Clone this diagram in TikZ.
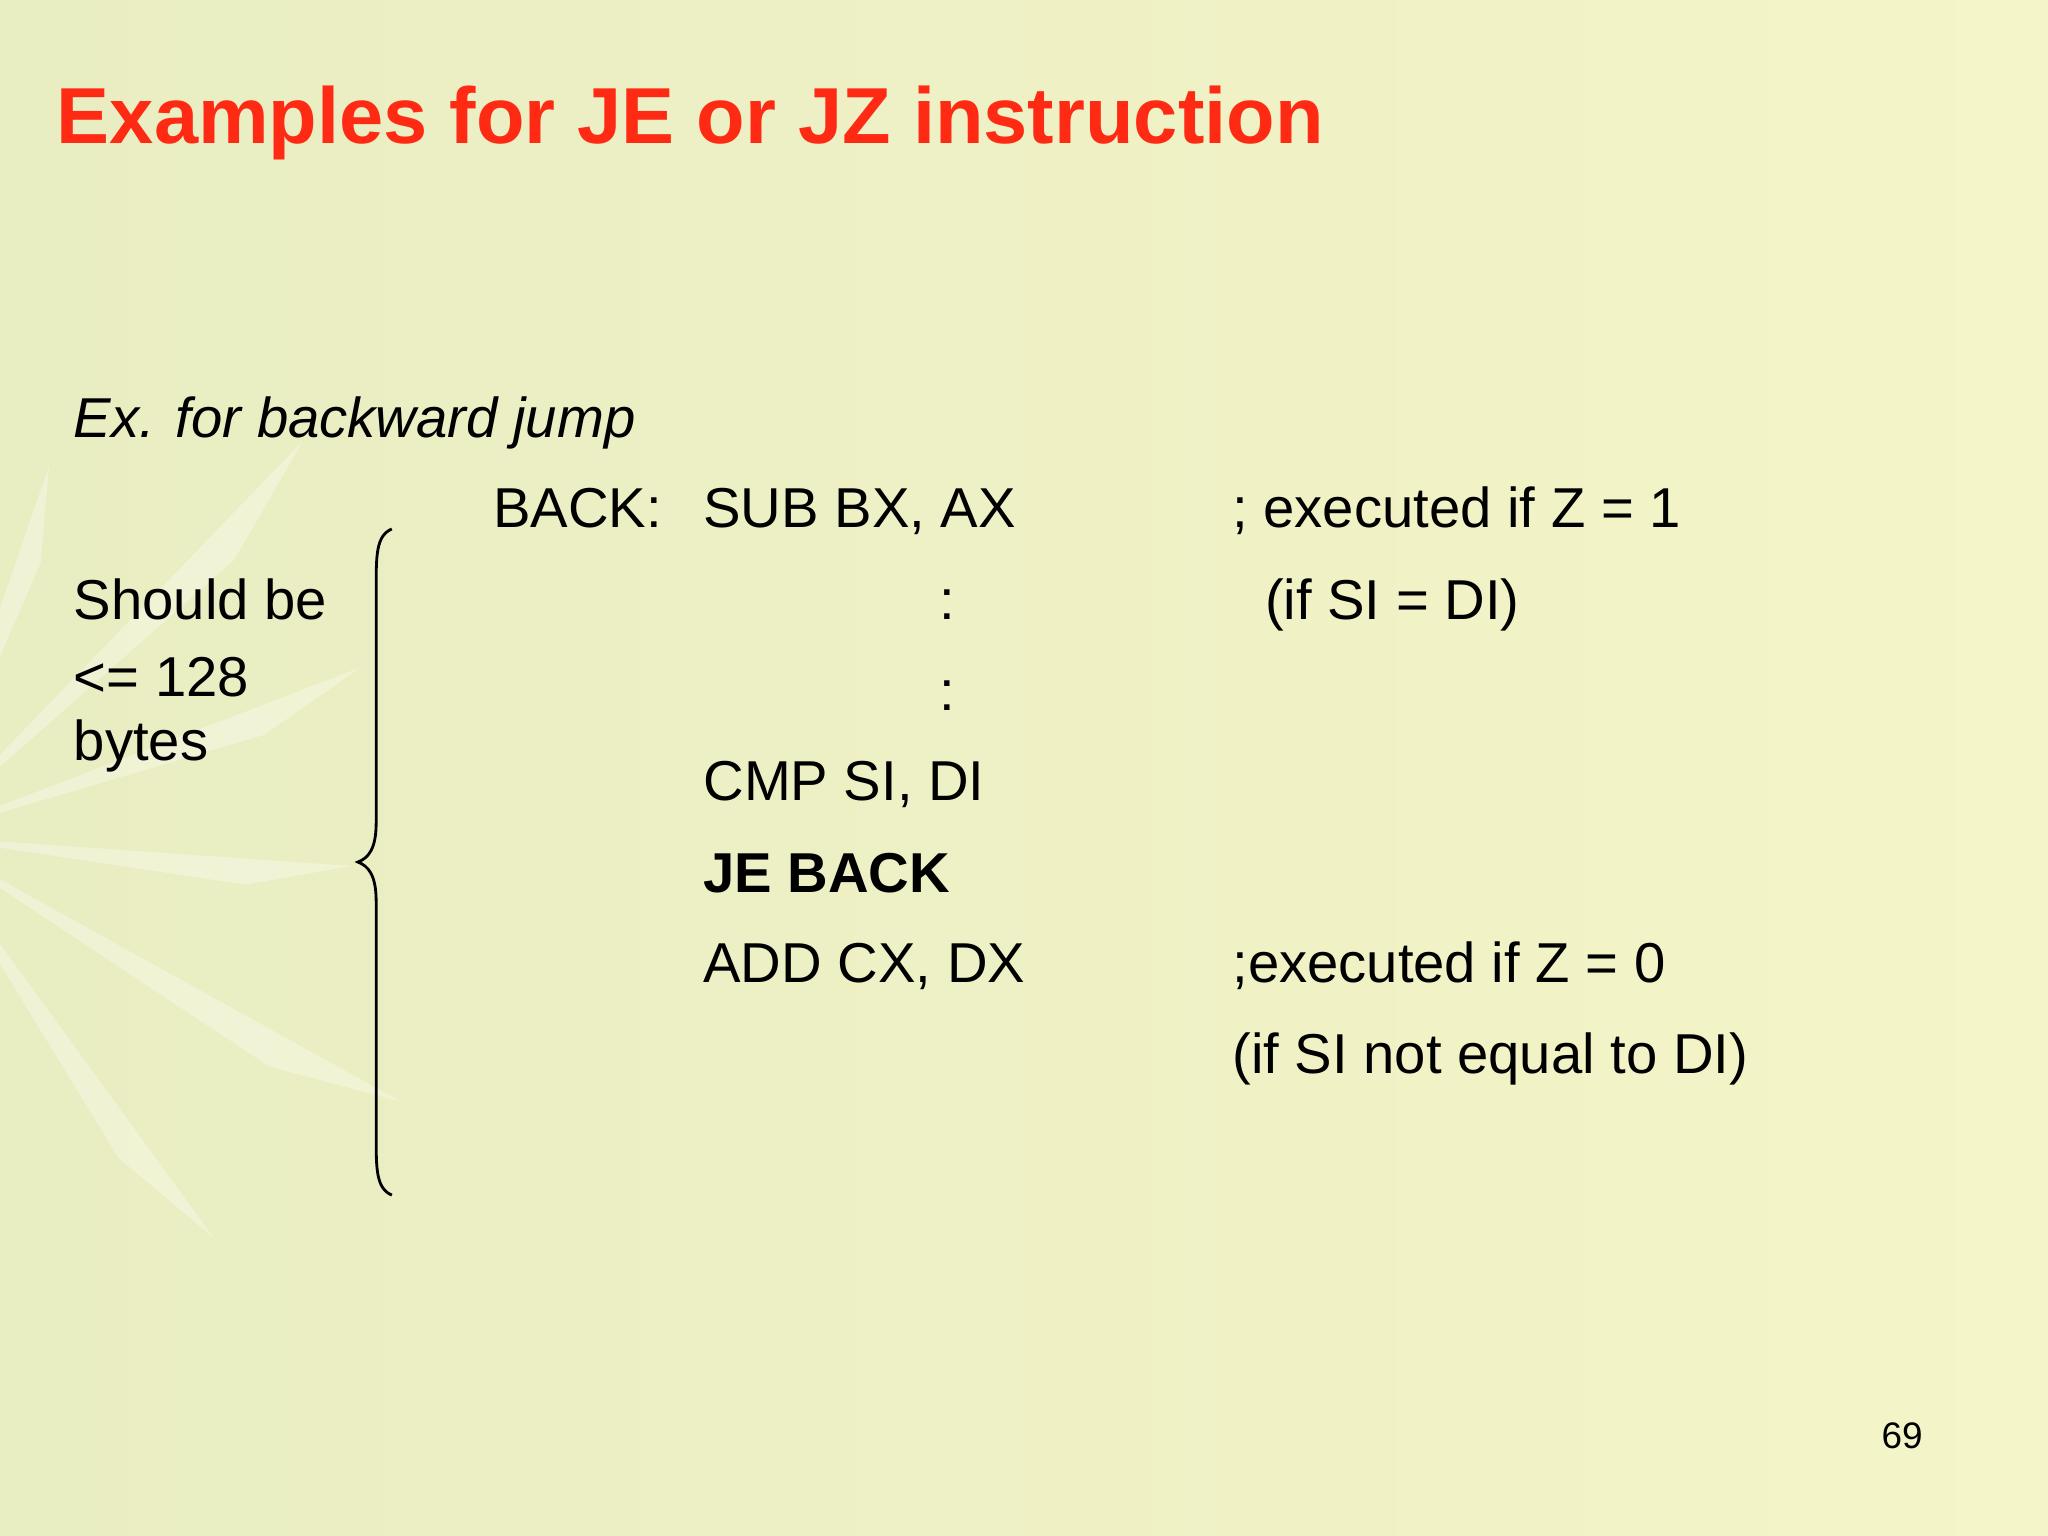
\documentclass[tikz,border=0pt]{standalone}
\usepackage{fontspec}
\setmainfont{Liberation Sans}
\definecolor{bgA}{HTML}{E9EDC2}
\definecolor{bgB}{HTML}{F4F5C8}
\definecolor{titlered}{HTML}{FF2A14}
\begin{document}
\begin{tikzpicture}[x=0.013061cm,y=-0.013061cm,
  body/.style={anchor=base west,inner sep=0pt,font=\fontsize{16pt}{19pt}\selectfont},
  star/.style={fill=white,opacity=0.3}]
\shade[left color=bgA,right color=bgB] (0,0) rectangle (1568,1176);
\useasboundingbox (0,0) rectangle (1568,1176);
% faint decorative star on the left
\foreach \a/\l in {10/330,35/420,60/380,85/300,110/360,135/310,160/250,-15/360,-40/420,-65/300}{
  \fill[star] (-60,640) -- ++(\a-6:\l) -- ++(\a+160:\l*0.25) -- cycle;
}
\node[anchor=base west,inner sep=0pt,text=titlered,font=\bfseries\fontsize{22.6pt}{27pt}\selectfont] (title) at (43,110) {Examples for JE or JZ instruction};
\node[body,font=\itshape\fontsize{16pt}{19pt}\selectfont] (ex) at (56,335) {Ex. for backward jump};
\node[body] (back) at (377,404) {BACK:};
\node[body] (sub) at (538,404) {SUB BX, AX};
\node[body] (c1) at (943,404) {; executed if Z = 1};
\node[body] (d1) at (719,474) {:};
\node[body] (c2) at (968,474) {(if SI = DI)};
\node[body] (d2) at (719,544) {:};
\node[body] (cmp) at (538,613) {CMP SI, DI};
\node[body,font=\bfseries\fontsize{16pt}{19pt}\selectfont] (je) at (538,683) {JE BACK};
\node[body] (add) at (538,752) {ADD CX, DX};
\node[body] (c3) at (943,752) {;executed if Z = 0};
\node[body] (c4) at (943,822) {(if SI not equal to DI)};
\node[body] (sb1) at (56,474) {Should be};
\node[body] (sb2) at (56,533) {<= 128};
\node[body] (sb3) at (56,582) {bytes};
\node[anchor=base west,inner sep=0pt,font=\fontsize{10.5pt}{12pt}\selectfont] (pg) at (1440,1109) {69};
% brace
\draw[line width=0.8pt] (300,405) .. controls (288,410) and (288,425) .. (288,450)
  -- (288,630) .. controls (288,650) and (282,657) .. (274,660)
  .. controls (282,663) and (288,670) .. (288,690)
  -- (288,870) .. controls (288,895) and (288,910) .. (300,915);
\end{tikzpicture}
\end{document}
